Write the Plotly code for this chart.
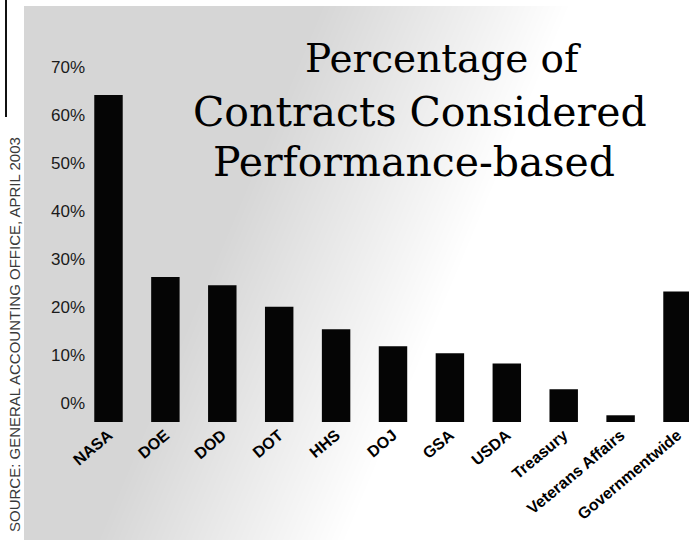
import base64
import struct
import zlib

import numpy as np
import plotly.graph_objects as go

# ---------------- data ----------------
agencies = ["NASA", "DOE", "DOD", "DOT", "HHS", "DOJ", "GSA", "USDA",
            "Treasury", "Veterans Affairs", "Governmentwide"]
pct_values = [64.2, 26.3, 24.6, 20.1, 15.4, 11.9, 10.4, 8.3, 2.9, -2.5, 23.3]
bar_base = -3.9
tick_values = [0, 10, 20, 30, 40, 50, 60, 70]
tick_labels = ["0%", "10%", "20%", "30%", "40%", "50%", "60%", "70%"]
title_lines = ["Percentage of", "Contracts Considered", "Performance-based"]
source_text = "SOURCE: GENERAL ACCOUNTING OFFICE, APRIL 2003"

# ---------------- layout geometry (pixels) ----------------
W, H = 689, 540
L, R, T, B = 83, 0, 0, 118
PW, PH = W - L - R, H - T - B


def px_x(px):
    return (px - L) / PW


def px_y(py):
    return (T + PH - py) / PH


# ---------------- halftone-like background (smooth gradient) ----------------
yy, xx = np.mgrid[0:H, 0:W]
d = xx + 0.42 * yy
t = np.clip((570.0 - d) / (570.0 - 320.0), 0, 1)
gray = 255.0 - t * (255.0 - 214.0)
gray[:, :24] = 255
gray[:6, :] = 255
img = gray.astype(np.uint8)


def png_bytes(arr):
    h, w = arr.shape
    raw = b"".join(b"\x00" + arr[i].tobytes() for i in range(h))

    def chunk(tag, data):
        c = struct.pack(">I", len(data)) + tag + data
        return c + struct.pack(">I", zlib.crc32(tag + data) & 0xFFFFFFFF)

    return (b"\x89PNG\r\n\x1a\n"
            + chunk(b"IHDR", struct.pack(">IIBBBBB", w, h, 8, 0, 0, 0, 0))
            + chunk(b"IDAT", zlib.compress(raw, 9))
            + chunk(b"IEND", b""))


bg_uri = "data:image/png;base64," + base64.b64encode(png_bytes(img)).decode()

# ---------------- figure ----------------
fig = go.Figure()
fig.add_trace(go.Bar(
    x=agencies,
    y=[v - bar_base for v in pct_values],
    base=bar_base,
    marker=dict(color="#050505", line=dict(width=0)),
    hoverinfo="skip",
))

fig.update_layout(
    width=W, height=H,
    margin=dict(l=L, r=R, t=T, b=B, pad=0),
    paper_bgcolor="white",
    plot_bgcolor="rgba(0,0,0,0)",
    showlegend=False,
    bargap=0.5,
    images=[dict(source=bg_uri, xref="paper", yref="paper",
                 x=px_x(0), y=px_y(0), sizex=W / PW, sizey=H / PH,
                 xanchor="left", yanchor="top", sizing="stretch",
                 layer="below")],
    xaxis=dict(
        range=[-0.448, 10.202], showgrid=False, zeroline=False,
        showline=False, ticks="", automargin=False, fixedrange=True,
        tickangle=-40,
        tickfont=dict(family="Liberation Sans, Arial, sans-serif",
                      size=16, color="#000000", weight="bold"),
    ),
    yaxis=dict(
        range=[bar_base, bar_base + PH / 4.8], showgrid=False,
        zeroline=False, showline=False, ticks="", automargin=False,
        anchor="free", position=px_x(85),
        tickvals=tick_values, ticktext=tick_labels,
        tickfont=dict(family="Liberation Sans, Arial, sans-serif",
                      size=17, color="#1a1a1a"),
    ),
)

# title lines
title_pos = [(443, 59), (420, 112), (414, 162)]
title_size = [39, 41, 41]
for line, (cx, cy), fs in zip(title_lines, title_pos, title_size):
    fig.add_annotation(
        text=line, xref="paper", yref="paper", x=px_x(cx), y=px_y(cy),
        xanchor="center", yanchor="middle", showarrow=False, borderpad=0,
        font=dict(family="DejaVu Serif, Liberation Serif, serif",
                  size=fs, color="#000000"),
    )

# vertical source note
fig.add_annotation(
    text=source_text, xref="paper", yref="paper",
    x=px_x(14), y=px_y(335), xanchor="center", yanchor="middle",
    textangle=-90, showarrow=False,
    font=dict(family="Liberation Sans, Arial, sans-serif", size=15,
              color="#3a3a3a"),
)

# thin vertical rule above the source note
fig.add_shape(type="line", xref="paper", yref="paper",
              x0=px_x(6), x1=px_x(6), y0=px_y(0), y1=px_y(117),
              line=dict(color="#111111", width=2))

fig.write_html("out.html")
